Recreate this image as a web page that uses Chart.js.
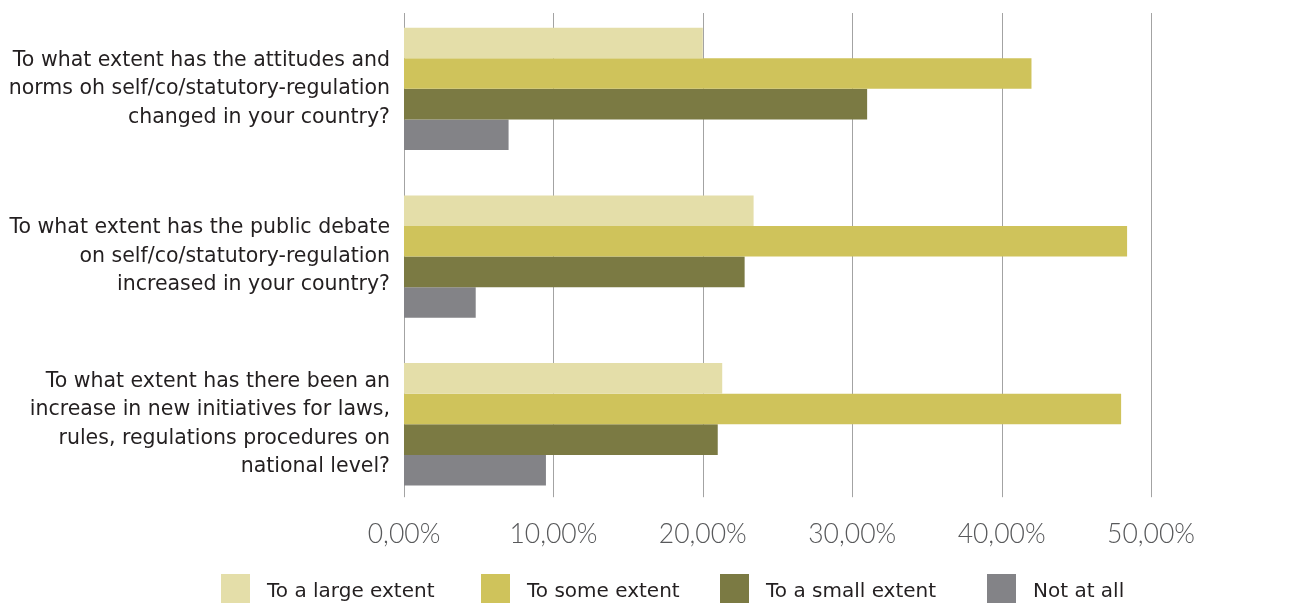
<!DOCTYPE html>
<html>
<head>
<meta charset="utf-8">
<script src="https://cdn.jsdelivr.net/npm/chart.js@4/dist/chart.umd.min.js"></script>
<style>
  html, body { margin: 0; padding: 0; background: #ffffff; }
  #wrap { position: relative; width: 1298px; height: 603px; overflow: hidden; }
  #chart { position: absolute; left: 0; top: 0; }
  #legend {
    position: absolute; left: 0; top: 574px; width: 1298px; height: 40px;
    font-family: "DejaVu Sans", sans-serif; font-size: 20px; color: #231f20;
  }
  #legend .item { position: absolute; top: 0; display: flex; align-items: center; height: 31px; }
  #legend .sw { width: 29px; height: 31px; margin-right: 17px; }
</style>
</head>
<body>
<div id="wrap">
  <canvas id="chart" width="1298" height="603"></canvas>
  <div id="legend"></div>
</div>
<script>
// Survey questions (one bar group each)
const questions = [
  ["To what extent has the attitudes and", "norms oh self/co/statutory-regulation", "changed in your country?"],
  ["To what extent has the public debate", "on self/co/statutory-regulation", "increased in your country?"],
  ["To what extent has there been an", "increase in new initiatives for laws,", "rules, regulations procedures on", "national level?"]
];

// Answer options and their share of responses (%)
const seriesNames = ["To a large extent", "To some extent", "To a small extent", "Not at all"];
const largeExtent = [20.0, 23.4, 21.3];
const someExtent  = [42.0, 48.4, 48.0];
const smallExtent = [31.0, 22.8, 21.0];
const notAtAll    = [7.0, 4.8, 9.5];
const seriesColors = ["#e4dea9", "#cfc35b", "#7b7a43", "#838387"];

// Axis ticks (%)
const xTicks = [0, 10, 20, 30, 40, 50];

const seriesValues = [largeExtent, someExtent, smallExtent, notAtAll];

const datasets = seriesNames.map((name, i) => ({
  label: name,
  data: seriesValues[i],
  backgroundColor: seriesColors[i],
  borderWidth: 0,
  barPercentage: 1.0,
  categoryPercentage: 0.73
}));

// Vertical grid lines that stop short of the plot edges
const gridPlugin = {
  id: 'shortGrid',
  beforeDatasetsDraw(chart) {
    const { ctx, scales: { x }, chartArea } = chart;
    ctx.save();
    ctx.strokeStyle = '#a3a3a3';
    ctx.lineWidth = 1;
    xTicks.forEach(v => {
      const px = Math.round(x.getPixelForValue(v)) + 0.5;
      ctx.beginPath();
      ctx.moveTo(px, chartArea.top + 8);
      ctx.lineTo(px, chartArea.bottom - 11);
      ctx.stroke();
    });
    ctx.restore();
  }
};

new Chart(document.getElementById('chart'), {
  type: 'bar',
  data: { labels: questions, datasets },
  options: {
    indexAxis: 'y',
    responsive: false,
    animation: false,
    layout: { padding: { top: 5, right: 147, bottom: 43, left: 0 } },
    plugins: { legend: { display: false }, tooltip: { enabled: false } },
    scales: {
      x: {
        min: 0, max: 50,
        afterBuildTicks(scale) { scale.ticks = xTicks.map(v => ({ value: v })); },
        afterFit(scale) { scale.paddingLeft = 0; scale.paddingRight = 0; },
        grid: { display: false, drawTicks: false },
        border: { display: false },
        ticks: {
          padding: 10,
          color: '#58595b',
          font: { family: 'Lato', size: 26.5, weight: '300' },
          callback: v => v.toFixed(2).replace('.', ',') + '%'
        }
      },
      y: {
        afterFit(scale) {
          scale.width = 404;
          scale.paddingTop = 0;
          scale.paddingBottom = 0;
        },
        grid: { display: false, drawTicks: false },
        border: { display: false },
        ticks: {
          padding: 14,
          color: '#231f20',
          font: { family: 'DejaVu Sans', size: 20.5, lineHeight: 1.39 }
        }
      }
    }
  },
  plugins: [gridPlugin]
});

// Legend built from the series arrays
const legendLeft = [221, 481, 720, 987];
const legend = document.getElementById('legend');
seriesNames.forEach((name, i) => {
  const item = document.createElement('div');
  item.className = 'item';
  item.style.left = legendLeft[i] + 'px';
  const sw = document.createElement('div');
  sw.className = 'sw';
  sw.style.background = seriesColors[i];
  const tx = document.createElement('span');
  tx.textContent = name;
  item.appendChild(sw);
  item.appendChild(tx);
  legend.appendChild(item);
});
</script>
</body>
</html>
